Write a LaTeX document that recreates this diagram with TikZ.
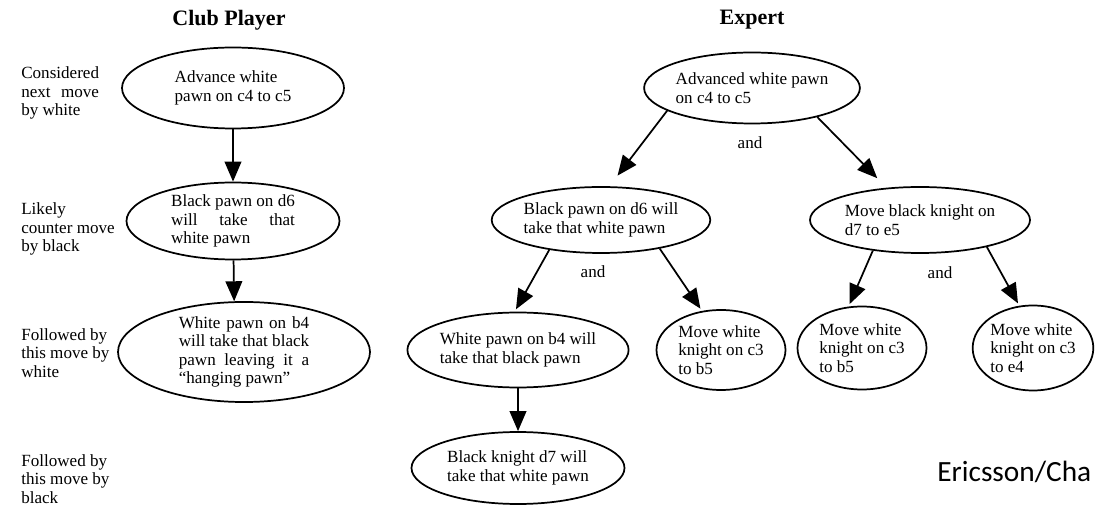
\documentclass[tikz,border=0pt]{standalone}
\usepackage{fontspec}
\setmainfont{Liberation Serif}
\newfontfamily\calibri{Carlito}
\usetikzlibrary{shapes.geometric, arrows.meta}

\newlength\linew
\newcommand\spread[2]{\settowidth\linew{#1}\makebox[\linew][s]{#2}}

\begin{document}
\begin{tikzpicture}[line width = 1.3pt,
                    x = 0.75pt,
                    y = -0.75pt,
                    >={Triangle[length = 15pt, width = 12.5pt]},
                    every node/.style = {font = \fontsize{12.8}{13.8}\selectfont},
                    heading/.style = {font = \bfseries\fontsize{16.5}{18}\selectfont},
                    rowlabel/.style = {anchor = west, align = left},
                    oval/.style 2 args = {ellipse, draw, align = left, inner sep = 0pt,
                                          minimum width = #1*0.75pt, minimum height = #2*0.75pt}]

    \useasboundingbox[fill = white] (0,0) rectangle (1095,505);

    % titles and row labels
    \node[heading] (club) at (229,20) {Club Player};
    \node[heading] (expert) at (752,20) {Expert};

    \node[rowlabel] (white1) at (16,93) {Considered\\\spread{Considered}{next move}\\by white};
    \node[rowlabel] (black1) at (16,229) {Likely\\counter move\\by black};
    \node[rowlabel] (white2) at (16,353) {Followed by\\this move by\\white};
    \node[rowlabel] (black2) at (16,479) {Followed by\\this move by\\black};

    % club player
    \node[oval = {222}{81}] (C1) at (233,88) {Advance white\\pawn on c4 to c5};
    \node[oval = {213}{77}] (C2) at (233,221) {Black pawn on d6\\\spread{Black pawn on d6}{will take that}\\white pawn};
    \node[oval = {252}{90}] (C3) at (244,352) {\spread{will take that black}{White pawn on b4}\\will take that black\\\spread{will take that black}{pawn leaving it a}\\``hanging pawn''};

    % expert
    \node[oval = {211}{71}] (E1) at (752,88) {Advanced white pawn\\on c4 to c5};
    \node[oval = {218}{66}] (E2) at (601,220) {Black pawn on d6 will\\take that white pawn};
    \node[oval = {220}{66}] (E3) at (920,220) {Move black knight on\\d7 to e5};
    \node[oval = {217}{75}] (E4) at (518,350) {White pawn on b4 will\\take that black pawn};
    \node[oval = {129}{80}] (E5) at (721,350) {Move white\\knight on c3\\to b5};
    \node[oval = {129}{83}] (E6) at (862,348) {Move white\\knight on c3\\to b5};
    \node[oval = {120}{85}] (E7) at (1033,348) {Move white\\knight on c3\\to e4};
    \node[oval = {213}{72}] (E8) at (518,468) {Black knight d7 will\\take that white pawn};

    \node (and1) at (750,143) {and};
    \node (and2) at (593,272) {and};
    \node (and3) at (940,273) {and};

    \node[anchor = base west, font = \calibri\fontsize{22}{26}\selectfont] (source) at (932,481) {Ericsson/Cha};

    \foreach \i/\j/\s in {C1/C2/0pt,
                          C2/C3.101/0pt,
                          E1.195/E2.76/10pt,
                          E1.336/E3.136/10pt,
                          E2.210/E4.95/2pt,
                          E2.334/E5.116/2pt,
                          E3.213/E6.108/2pt,
                          E3.338/E7.108/2pt,
                          E4/E8/0pt}
    {
        \draw[->, shorten >= \s] (\i) -- (\j);
    }
\end{tikzpicture}
\end{document}
